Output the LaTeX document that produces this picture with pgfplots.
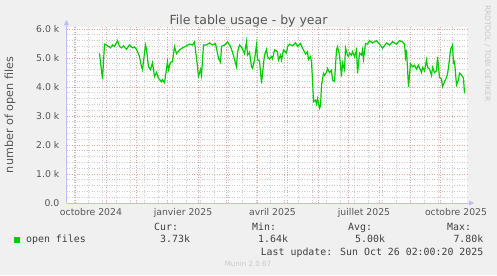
\documentclass[border=0pt]{standalone}
\usepackage{pgfplots}
\pgfplotsset{compat=1.18}
\usepackage{pgfplotstable}
\usepackage{fontspec}
\setmainfont{DejaVu Sans}
\newfontfamily\mono{DejaVu Sans Mono}
\usetikzlibrary{arrows.meta}
\definecolor{bg}{HTML}{F0F0F0}
\definecolor{majgrid}{RGB}{232,165,165}
\definecolor{mingrid}{RGB}{205,205,205}
\definecolor{axiscol}{RGB}{190,190,240}
\definecolor{linecol}{HTML}{00CC00}
\definecolor{titlecol}{HTML}{555555}
\definecolor{tickcol}{HTML}{555555}
\definecolor{legcol}{HTML}{404040}
\definecolor{faint}{HTML}{C8C8C8}

\pgfplotstableread{
day val
24 5.16
27 4.27
29 5.48
31 5.45
33 5.40
35 5.35
37 5.45
39 5.40
42 5.60
44 5.40
46 5.35
48 5.42
51 5.30
54 5.45
57 5.35
59 5.38
61 5.30
64 5.05
66 4.70
67 4.60
70 5.45
71 5.30
73 4.70
75 4.60
77 4.84
79 4.36
81 4.50
83 4.30
86 4.18
87 4.25
89 4.15
92 4.87
93 4.60
95 4.85
97 4.88
99 5.39
101 5.15
104 5.28
107 5.35
110 5.40
114 5.48
117 5.45
119 5.56
122 4.70
123 4.38
125 4.60
126 4.40
128 5.45
131 5.45
134 5.52
137 5.45
140 5.50
143 4.99
145 4.85
146 5.40
149 5.45
152 5.55
155 5.40
157 5.20
161 4.70
162 5.20
164 5.45
166 5.38
169 5.15
171 5.56
172 5.10
174 5.20
176 4.70
177 4.65
179 4.94
181 5.45
182 4.95
184 4.90
185 4.53
186 4.13
188 4.80
189 5.10
191 5.30
192 5.05
194 4.97
196 5.05
197 4.97
199 5.28
202 5.22
203 4.93
205 5.10
206 4.93
208 5.28
211 5.17
212 5.39
214 5.48
217 5.42
220 5.53
222 5.40
225 5.50
227 5.34
230 5.14
232 5.22
233 4.95
235 5.05
236 4.87
237 4.24
238 3.49
240 3.55
241 3.42
242 3.60
244 3.27
245 3.35
246 4.07
248 4.47
249 4.40
251 4.51
252 4.64
254 4.50
256 4.58
257 4.24
259 4.19
261 5.28
262 5.39
264 5.10
266 4.36
267 4.83
269 4.60
270 5.35
272 5.10
273 5.06
274 5.17
276 5.10
277 5.22
279 5.05
281 5.28
282 4.47
284 5.17
286 5.10
287 5.28
288 4.97
290 5.50
292 5.48
294 5.60
297 5.52
301 5.60
304 5.48
307 5.34
311 5.52
314 5.45
317 5.56
321 5.48
324 5.60
327 5.56
329 5.48
330 5.04
331 5.28
333 4.01
335 4.80
337 4.70
339 4.75
341 4.62
343 4.75
346 4.50
347 4.68
349 4.56
351 4.93
352 4.68
354 4.62
356 4.40
357 4.68
359 4.50
361 4.56
362 5.04
364 4.33
366 4.27
367 4.01
369 4.18
371 4.33
372 4.45
373 4.68
375 5.28
377 5.45
378 4.83
379 4.88
380 4.48
381 4.07
383 4.25
384 4.48
386 4.42
388 4.30
389 3.78
}\filetable

\begin{document}
\begin{tikzpicture}[x=1bp,y=1bp]
\fill[bg] (0,0) rectangle (497,275);
\begin{axis}[
  at={(66.5bp,72bp)}, anchor=south west,
  scale only axis, width=400.5bp, height=176bp,
  xmin=-9, xmax=391.5, ymin=0, ymax=6.07,
  axis lines=left,
  axis line style={axiscol, line width=0.9bp, -{Triangle[length=5bp,width=5bp]}, shorten >=-7bp},
  axis background/.style={fill=white},
  xtick={0,31,61,92,123,151,182,212,243,273,304,335,365},
  xticklabels={,,,,,,,,,,,,},
  minor xtick={-1,13,27,41,55,69,83,97,111,125,139,153,167,181,195,209,223,237,251,265,279,293,307,321,335,349,363,377},
  extra x ticks={15.5,107.5,197,288.5,380.5},
  extra x tick labels={octobre 2024,janvier 2025,avril 2025,juillet 2025,octobre 2025},
  extra x tick style={grid=none},
  ytick={0,1,2,3,4,5,6},
  yticklabels={0.0\hspace{6bp},1.0 k,2.0 k,3.0 k,4.0 k,5.0 k,6.0 k},
  minor ytick={0.2,0.4,0.6,0.8,1.2,1.4,1.6,1.8,2.2,2.4,2.6,2.8,3.2,3.4,3.6,3.8,4.2,4.4,4.6,4.8,5.2,5.4,5.6,5.8},
  grid=both,
  major grid style={majgrid, line width=0.7bp, dash pattern=on 1bp off 1.5bp},
  minor grid style={mingrid, line width=0.7bp, dash pattern=on 1bp off 1.5bp},
  major tick length=0pt, minor tick length=0pt,
  tick label style={font=\fontsize{9.3bp}{11bp}\selectfont, text=tickcol},
  /pgf/number format/assume math mode=true,
  yticklabel style={anchor=east, inner sep=0pt, xshift=-7bp},
  xticklabel style={anchor=north, inner sep=0pt, yshift=-5bp},
  clip=false,
]
\addplot[linecol, line width=1.2bp, mark=none] table[x=day, y=val] {\filetable};
\end{axis}
\node[anchor=base, font=\fontsize{12.5bp}{14bp}\selectfont, text=titlecol] at (248.5,251) {File table usage - by year};
\node[rotate=90, font=\fontsize{11.2bp}{13bp}\selectfont, text=titlecol] at (10,160) {number of open files};
\node[rotate=-90, font=\fontsize{7.5bp}{9bp}\selectfont, text=faint] at (487.5,221.5) {RRDTOOL / TOBI OETIKER};
\fill[linecol] (14,32.5) rectangle (20,38);
\begin{scope}[every node/.style={font=\mono\fontsize{9.9bp}{11bp}\selectfont, text=legcol, inner sep=0pt}]
\node[anchor=base west] at (26,32.3) {open files};
\node[anchor=base west] at (154,44.3) {Cur:};
\node[anchor=base west] at (160,32.3) {3.73k};
\node[anchor=base west] at (252,44.3) {Min:};
\node[anchor=base west] at (258,32.3) {1.64k};
\node[anchor=base west] at (348,44.3) {Avg:};
\node[anchor=base west] at (355,32.3) {5.00k};
\node[anchor=base west] at (447,44.3) {Max:};
\node[anchor=base east] at (483.5,32.3) {7.80k};
\node[anchor=base east] at (483.5,20) {Last update: Sun Oct 26 02:00:20 2025};
\end{scope}
\node[anchor=base, inner sep=0pt, font=\fontsize{7.1bp}{8bp}\selectfont, text=faint] at (248,8.3) {Munin 2.0.67};
\pgfresetboundingbox
\path (0,0) rectangle (497,275);
\end{tikzpicture}
\end{document}
